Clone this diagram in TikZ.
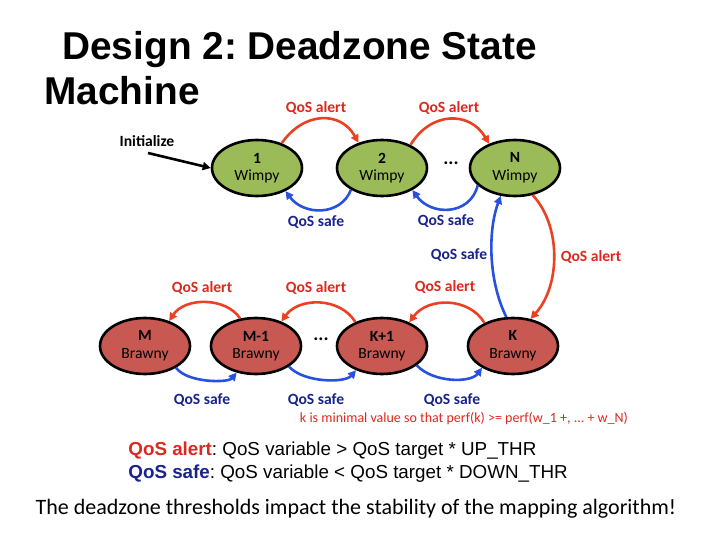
\documentclass[tikz,border=0pt]{standalone}
\usepackage{fontspec}
\setmainfont{Carlito}
\newfontfamily\arialf{Liberation Sans}
\usetikzlibrary{shapes.geometric,arrows.meta}
\definecolor{wgreen}{RGB}{155,187,89}
\definecolor{bred}{RGB}{200,88,82}
\definecolor{arred}{RGB}{235,65,35}
\definecolor{arblue}{RGB}{40,80,225}
\definecolor{txred}{RGB}{220,40,30}
\definecolor{txblue}{RGB}{25,35,140}
\frenchspacing
\begin{document}
\begin{tikzpicture}[x=0.5pt,y=-0.5pt,
  stt/.style={ellipse,draw=black,line width=1.3pt,minimum width=45pt,minimum height=28pt,inner sep=0pt,align=center,font=\fontsize{7.8}{8.8}\selectfont},
  wimpy/.style={stt,fill=wgreen},
  brawny/.style={stt,fill=bred},
  alert/.style={draw=arred,line width=1.3pt,-{Triangle[length=4pt,width=4pt]}},
  safe/.style={draw=arblue,line width=1.3pt,-{Triangle[length=4pt,width=4pt]}},
  alab/.style={text=txred,font=\fontsize{7.8}{8.8}\selectfont\bfseries},
  slab/.style={text=txblue,font=\fontsize{7.8}{8.8}\selectfont\bfseries},
  dots/.style={font=\fontsize{9.5}{10}\selectfont\bfseries}]
\useasboundingbox (0,0) rectangle (720,540);
% title
\node[anchor=base west,inner sep=0pt,font=\arialf\bfseries\fontsize{19.4}{22}\selectfont] (t1) at (62,60) {Design 2: Deadzone State};
\node[anchor=base west,inner sep=0pt,font=\arialf\bfseries\fontsize{19.4}{22}\selectfont] (t2) at (44,105) {Machine};
% top row
\node[wimpy] (n1) at (257,168) {\textbf{1}\\Wimpy};
\node[wimpy] (n2) at (382,168) {\textbf{2}\\Wimpy};
\node[wimpy] (nN) at (515,168) {\textbf{N}\\Wimpy};
\node[dots] (d1) at (451,163) {...};
% bottom row
\node[brawny] (bM) at (145,346) {\textbf{M}\\Brawny};
\node[brawny] (bM1) at (256,346) {\textbf{M-1}\\Brawny};
\node[brawny] (bK1) at (382,346) {\textbf{K+1}\\Brawny};
\node[brawny] (bK) at (513,346) {\textbf{K}\\Brawny};
\node[dots] (d2) at (321,339) {...};
% initialize
\node[font=\fontsize{7.8}{8.8}\selectfont\bfseries] (init) at (147,141) {Initialize};
\coordinate (ist) at (148,153);
\draw[line width=1.3pt,-{Triangle[length=4pt,width=4pt]}] (ist) -- (n1.west);
% top arcs
\draw[alert] (n1.45) .. controls (304,111) and (341,111) .. (n2.133);
\draw[alert] (n2.39) .. controls (431,111) and (470,111) .. (nN.137);
\draw[safe] (n2.215) .. controls (341,216) and (304,216) .. (n1.-39);
\draw[safe] (nN.205) .. controls (470,216) and (431,216) .. (n2.-36);
\node[alab] (la1) at (316,108) {QoS alert};
\node[alab] (la2) at (449,108) {QoS alert};
\node[slab] (ls1) at (316,222) {QoS safe};
\node[slab] (ls2) at (446,221) {QoS safe};
% vertical
\draw[alert] (nN.-57) .. controls (561,225) and (561,285) .. (bK.57);
\draw[safe] (bK.103) .. controls (488,280) and (488,230) .. (nN.243);
\node[slab] (ls3) at (459,255) {QoS safe};
\node[alab] (la3) at (591,257) {QoS alert};
% bottom arcs
\draw[alert] (bM1.120) .. controls (226,297) and (185,297) .. (bM.46);
\draw[alert] (bK1.138) .. controls (340,297) and (299,297) .. (bM1.44);
\draw[alert] (bK.141) .. controls (469,297) and (428,297) .. (bK1.41);
\draw[safe] (bM.-35) .. controls (187,383) and (228,383) .. (bM1.234);
\draw[safe] (bM1.-32) .. controls (304,383) and (345,383) .. (bK1.223);
\draw[safe] (bK1.-29) .. controls (433,383) and (471,383) .. (bK.215);
\node[alab] (la4) at (202,288) {QoS alert};
\node[alab] (la5) at (316,288) {QoS alert};
\node[alab] (la6) at (445,287) {QoS alert};
\node[slab] (ls4) at (202,400) {QoS safe};
\node[slab] (ls5) at (316,400) {QoS safe};
\node[slab] (ls6) at (452,400) {QoS safe};
\node[text=txred,font=\fontsize{7}{8}\selectfont] (note) at (464,419) {k is minimal value so that perf(k) >= perf(w\_1 +, ... + w\_N)};
% legend
\node[anchor=base west,inner sep=0pt,font=\arialf\fontsize{9.4}{11}\selectfont] (lg1) at (128,456) {\textcolor{txred}{\bfseries QoS alert}: QoS variable > QoS target * UP\_THR};
\node[anchor=base west,inner sep=0pt,font=\arialf\fontsize{9.4}{11}\selectfont] (lg2) at (128,479) {\textcolor{txblue}{\bfseries QoS safe}: QoS variable < QoS target * DOWN\_THR};
\node[anchor=base,inner sep=0pt,font=\fontsize{11}{13}\selectfont] (bot) at (356,515) {The deadzone thresholds impact the stability of the mapping algorithm!};
\end{tikzpicture}
\end{document}
